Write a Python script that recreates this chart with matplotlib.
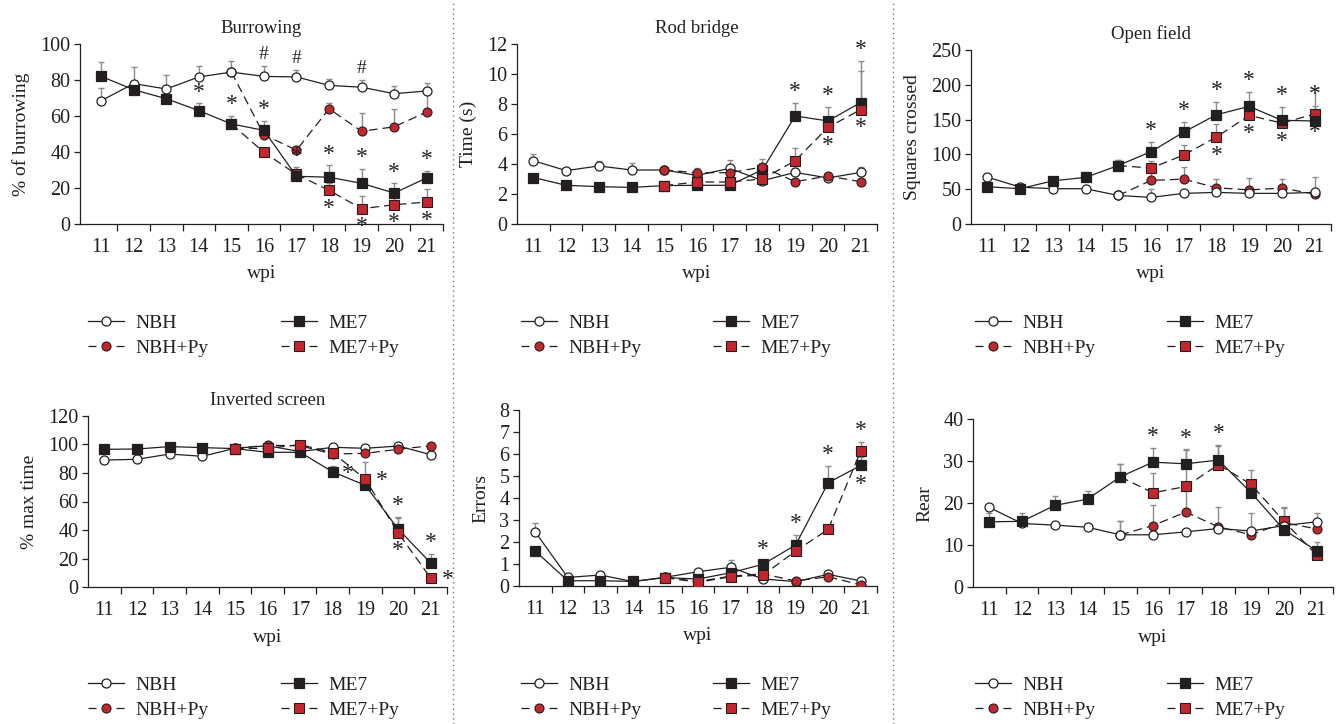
import numpy as np
import matplotlib
matplotlib.use('Agg')
import matplotlib.pyplot as plt
from matplotlib.lines import Line2D

plt.rcParams['font.family'] = ['Liberation Serif', 'DejaVu Serif']

weeks = [11, 12, 13, 14, 15, 16, 17, 18, 19, 20, 21]
weeks_py = [15, 16, 17, 18, 19, 20, 21]
series_names = ['NBH', 'NBH+Py', 'ME7', 'ME7+Py']

# ---------------- Burrowing ----------------
burrow_nbh = [68.5, 78, 75, 81.7, 84.4, 82, 81.7, 77, 76, 72.4, 73.9]
burrow_nbh_err = [7, 9, 8, 6, 6, 6, 4, 3.5, 4, 4.5, 4.6]
burrow_me7 = [82, 74.6, 69.6, 63, 55.6, 52, 26.5, 26, 22.6, 17.2, 25.6]
burrow_me7_err = [8, 3, 2, 4, 4.5, 5.5, 5, 6.6, 8, 5.5, 4]
burrow_nbhpy = [84.4, 49.6, 41, 64, 51.5, 54, 62.2]
burrow_nbhpy_err = [0, 3, 2, 3.5, 10, 10, 12]
burrow_me7py = [55.6, 39.8, 27.6, 18.7, 8.5, 10.7, 12.2]
burrow_me7py_err = [0, 2, 3, 4, 7, 5, 7]

# ---------------- Rod bridge ----------------
rod_nbh = [4.22, 3.56, 3.87, 3.6, 3.6, 3.24, 3.71, 2.89, 3.44, 3.07, 3.44]
rod_nbh_err = [0.45, 0.15, 0.33, 0.47, 0.15, 0.5, 0.56, 0.2, 0.3, 0.3, 0.35]
rod_me7 = [3.1, 2.58, 2.49, 2.44, 2.56, 2.58, 2.58, 3.62, 7.2, 6.87, 8.09]
rod_me7_err = [0.15, 0.1, 0.1, 0.1, 0.1, 0.1, 0.1, 0.7, 0.9, 0.93, 2.8]
rod_nbhpy = [3.6, 3.42, 3.42, 3.8, 2.82, 3.2, 2.82]
rod_nbhpy_err = [0.15, 0.2, 0.2, 0.2, 0.15, 0.2, 0.1]
rod_me7py = [2.56, 2.8, 2.8, 3.0, 4.22, 6.44, 7.62]
rod_me7py_err = [0.1, 0.15, 0.15, 0.2, 0.82, 0.3, 2.6]

# ---------------- Open field ----------------
open_nbh = [67.4, 53, 50.7, 50.7, 41, 38.2, 44, 45.4, 44, 44, 45.4]
open_nbh_err = [4, 3, 2, 2, 6, 12, 5, 5, 5, 5, 5]
open_me7 = [53.5, 50.7, 62, 67, 84, 104, 132, 157, 169, 149, 148]
open_me7_err = [3, 4, 6, 8, 8, 14, 15, 19, 21, 19, 22]
open_nbhpy = [41, 62.6, 64.5, 52, 49, 51.6, 43]
open_nbhpy_err = [6, 10, 17, 13, 17, 13, 24]
open_me7py = [84, 80.3, 99, 125, 156, 145, 158]
open_me7py_err = [8, 10, 15, 18, 10, 8, 37]

# ---------------- Inverted screen ----------------
inv_nbh = [89, 89.5, 93.2, 91.6, 97.2, 99, 94.9, 97.9, 97.2, 98.8, 92.8]
inv_nbh_err = [1, 1, 1, 1, 1, 1, 1, 1, 1, 1, 1]
inv_me7 = [96.5, 96.7, 98.4, 97.7, 97, 94.4, 94.4, 80.7, 71.3, 40.8, 17]
inv_me7_err = [1, 1, 1, 1, 1, 1, 1, 4.3, 2, 8.6, 6.5]
inv_nbhpy = [97.2, 99.3, 99, 93.2, 93.7, 96.5, 99]
inv_nbhpy_err = [1, 1, 1, 1, 1, 1, 1]
inv_me7py = [97, 97.2, 99.8, 94.2, 75.5, 38.2, 6.5]
inv_me7py_err = [1, 1, 1, 1, 12, 10, 1]

# ---------------- Errors ----------------
err_nbh = [2.46, 0.39, 0.5, 0.2, 0.4, 0.65, 0.85, 0.32, 0.2, 0.53, 0.23]
err_nbh_err = [0.42, 0.05, 0.05, 0.05, 0.05, 0.05, 0.33, 0.05, 0.05, 0.05, 0.05]
err_me7 = [1.59, 0.24, 0.24, 0.21, 0.38, 0.32, 0.6, 0.99, 1.87, 4.7, 5.49]
err_me7_err = [0.1, 0.05, 0.05, 0.05, 0.05, 0.05, 0.1, 0.15, 0.47, 0.76, 0.4]
err_nbhpy = [0.4, 0.2, 0.45, 0.55, 0.23, 0.42, 0.05]
err_nbhpy_err = [0.05, 0.05, 0.05, 0.05, 0.05, 0.05, 0.05]
err_me7py = [0.38, 0.17, 0.42, 0.5, 1.59, 2.58, 6.15]
err_me7py_err = [0.05, 0.05, 0.1, 0.1, 0.2, 0.2, 0.42]

# ---------------- Rear ----------------
rear_nbh = [19, 15.2, 14.8, 14.3, 12.5, 12.5, 13.2, 14, 13.4, 14.7, 15.6]
rear_nbh_err = [0.5, 0.5, 0.5, 0.5, 3.4, 0.5, 0.5, 0.5, 0.5, 1, 2.2]
rear_me7 = [15.6, 15.7, 19.5, 21, 26.3, 29.8, 29.4, 30.3, 22.5, 13.7, 8.7]
rear_me7_err = [2.1, 2, 2.2, 2, 3, 3.4, 3.5, 3.6, 2, 3, 2]
rear_nbhpy = [12.5, 14.7, 17.9, 14.4, 12.5, 15.4, 13.9]
rear_nbhpy_err = [3.4, 4.9, 5, 4.6, 5.2, 3.5, 1]
rear_me7py = [26.3, 22.5, 24, 29.2, 24.5, 15.7, 7.7]
rear_me7py_err = [3, 4.8, 8.8, 4.5, 3.4, 3.3, 1]

RED = '#c1272d'
INK = '#231f20'
ERRC = '#8c8c8c'
DASH = (0, (7, 4))
W, H = 1338, 724

fig = plt.figure(figsize=(W / 100, H / 100), dpi=100)


def add_ax(l, r, t, b):
    return fig.add_axes([l / W, 1 - b / H, (r - l) / W, (b - t) / H])


panels = [
    dict(rect=(80, 443, 44, 224), xl=10.35, ylim=(0, 100), yticks=[0, 20, 40, 60, 80, 100],
         title='Burrowing', ylabel='% of burrowing', py_top=False,
         d=(burrow_nbh, burrow_nbh_err, burrow_nbhpy, burrow_nbhpy_err,
            burrow_me7, burrow_me7_err, burrow_me7py, burrow_me7py_err),
         above_me7=[14, 15, 16, 17, 18, 19, 20, 21], below_me7py=[18, 19, 20, 21],
         hash_nbh=[16, 17, 19]),
    dict(rect=(517, 877, 44, 224), xl=10.5, ylim=(0, 12), yticks=[0, 2, 4, 6, 8, 10, 12],
         title='Rod bridge', ylabel='Time (s)', py_top=True,
         d=(rod_nbh, rod_nbh_err, rod_nbhpy, rod_nbhpy_err,
            rod_me7, rod_me7_err, rod_me7py, rod_me7py_err),
         above_me7=[19, 20, 21], below_me7py=[20, 21]),
    dict(rect=(971, 1331, 50, 224), xl=10.5, ylim=(0, 250), yticks=[0, 50, 100, 150, 200, 250],
         title='Open field', ylabel='Squares crossed', py_top=False,
         d=(open_nbh, open_nbh_err, open_nbhpy, open_nbhpy_err,
            open_me7, open_me7_err, open_me7py, open_me7py_err),
         above_me7=[16, 17, 18, 19, 20, 21], below_me7py=[18, 19, 20, 21]),
    dict(rect=(88, 447, 415.7, 587.3), xl=10.5, ylim=(0, 120), yticks=[0, 20, 40, 60, 80, 100, 120],
         title='Inverted screen', ylabel='% max time', py_top=True,
         d=(inv_nbh, inv_nbh_err, inv_nbhpy, inv_nbhpy_err,
            inv_me7, inv_me7_err, inv_me7py, inv_me7py_err),
         above_me7=[20, 21], below_me7py=[20], right_me7=[18], right_me7py=[19, 21]),
    dict(rect=(519, 877, 410.3, 586), xl=10.5, ylim=(0, 8), yticks=[0, 1, 2, 3, 4, 5, 6, 7, 8],
         title=None, ylabel='Errors', py_top=True,
         d=(err_nbh, err_nbh_err, err_nbhpy, err_nbhpy_err,
            err_me7, err_me7_err, err_me7py, err_me7py_err),
         above_me7=[18, 19, 20], above_me7py=[21], below_me7=[21]),
    dict(rect=(973, 1333, 419.3, 587.3), xl=10.5, ylim=(0, 40), yticks=[0, 10, 20, 30, 40],
         title=None, ylabel='Rear', py_top=False,
         d=(rear_nbh, rear_nbh_err, rear_nbhpy, rear_nbhpy_err,
            rear_me7, rear_me7_err, rear_me7py, rear_me7py_err),
         above_me7=[16, 17, 18]),
]


def star(ax, x, y, dx, dy, s='*', fs=17):
    ax.annotate(s, xy=(x, y), xytext=(dx, dy), textcoords='offset points',
                ha='center', va='center', fontsize=fs, color=INK, zorder=10,
                annotation_clip=False)


for p in panels:
    l, r, t, b = p['rect']
    ax = add_ax(l, r, t, b)
    nbh, nbh_e, nbhpy, nbhpy_e, me7, me7_e, me7py, me7py_e = p['d']
    x = np.array(weeks)
    xp = np.array(weeks_py)
    for xs, ys, es in [(x, nbh, nbh_e), (xp, nbhpy, nbhpy_e), (x, me7, me7_e), (xp, me7py, me7py_e)]:
        es = np.array(es, dtype=float)
        ax.errorbar(xs, ys, yerr=[np.zeros_like(es), es], fmt='none', ecolor=ERRC,
                    elinewidth=1.0, capsize=2.5, capthick=1.0, zorder=1)
    zp = 3 if p['py_top'] else 2
    zc = 5 - zp
    ax.plot(x, nbh, '-', color=INK, lw=0.9, marker='o', ms=6.5, mfc='white', mec=INK, mew=0.9, zorder=zc)
    ax.plot(x, me7, '-', color=INK, lw=0.9, marker='s', ms=6.8, mfc=INK, mec=INK, mew=0.9, zorder=zc + 0.1)
    ax.plot(xp, nbhpy, ls=DASH, color=INK, lw=0.9, marker='o', ms=6.5, mfc=RED, mec=INK, mew=0.8, zorder=zp)
    ax.plot(xp, me7py, ls=DASH, color=INK, lw=0.9, marker='s', ms=6.8, mfc=RED, mec=INK, mew=0.8, zorder=zp + 0.1)

    me7_d = dict(zip(weeks, zip(me7, me7_e)))
    me7py_d = dict(zip(weeks_py, zip(me7py, me7py_e)))
    nbh_d = dict(zip(weeks, zip(nbh, nbh_e)))
    for w in p.get('above_me7', []):
        v, e = me7_d[w]
        star(ax, w, v + e, 0, 8)
    for w in p.get('above_me7py', []):
        v, e = me7py_d[w]
        star(ax, w, v + e, 0, 8)
    for w in p.get('below_me7py', []):
        v, e = me7py_d[w]
        star(ax, w, v, 0, -13)
    for w in p.get('below_me7', []):
        v, e = me7_d[w]
        star(ax, w, v, 0, -14)
    for w in p.get('right_me7', []):
        v, e = me7_d[w]
        star(ax, w, v, 11, -1)
    for w in p.get('right_me7py', []):
        v, e = me7py_d[w]
        star(ax, w, v, 12, -1)
    for w in p.get('hash_nbh', []):
        v, e = nbh_d[w]
        star(ax, w, v + e, 0, 8, s='#', fs=14)

    ax.set_xlim(p['xl'], 21.5)
    ax.set_ylim(*p['ylim'])
    ax.set_yticks(p['yticks'])
    ax.set_xticks(weeks)
    ax.set_xticklabels([str(w) for w in weeks])
    ax.set_xticks(np.arange(11.5, 21.6, 1.0), minor=True)
    ax.tick_params(axis='x', which='major', length=0, pad=10, labelsize=14.5, labelcolor=INK)
    ax.tick_params(axis='x', which='minor', length=5, width=0.9, direction='out', color=INK)
    ax.tick_params(axis='y', which='major', length=4, width=0.9, direction='out', pad=3,
                   labelsize=14.5, labelcolor=INK, color=INK)
    for s in ['top', 'right']:
        ax.spines[s].set_visible(False)
    for s in ['left', 'bottom']:
        ax.spines[s].set_linewidth(0.9)
        ax.spines[s].set_color(INK)
    ax.set_xlabel('wpi', fontsize=14, color=INK, labelpad=6)
    ax.set_ylabel(p['ylabel'], fontsize=14, color=INK, labelpad=7)
    if p['title']:
        ax.set_title(p['title'], fontsize=13.5, color=INK, pad=8)

# separators
for xs in [453, 893]:
    fig.add_artist(Line2D([xs / W, xs / W], [0, 1], transform=fig.transFigure,
                          color='#777777', lw=1.0, ls=(0, (1, 2.5))))

# legends
h_nbh = Line2D([], [], color=INK, lw=0.9, marker='o', ms=6.5, mfc='white', mec=INK, mew=0.9)
h_nbhpy = Line2D([], [], color=INK, lw=0.9, ls=(0, (6.4, 16)), marker='o', ms=6.5, mfc=RED, mec=INK, mew=0.8)
h_me7 = Line2D([], [], color=INK, lw=0.9, marker='s', ms=6.8, mfc=INK, mec=INK, mew=0.9)
h_me7py = Line2D([], [], color=INK, lw=0.9, ls=(0, (6.4, 16)), marker='s', ms=6.8, mfc=RED, mec=INK, mew=0.8)

leg_cols = [(88, 281), (521, 713), (975, 1167)]
leg_rows = [335.5, 697.5]
for yc in leg_rows:
    for xa, xb in leg_cols:
        for xl, hs, labs in [(xa, [h_nbh, h_nbhpy], series_names[:2]),
                             (xb, [h_me7, h_me7py], series_names[2:])]:
            fig.legend(hs, labs, loc='center left', bbox_to_anchor=(xl / W, 1 - yc / H),
                       frameon=False, fontsize=14, handlelength=1.85, handletextpad=0.6,
                       borderpad=0, borderaxespad=0, labelspacing=0.35, labelcolor=INK)

fig.savefig('out.png', dpi=100)
